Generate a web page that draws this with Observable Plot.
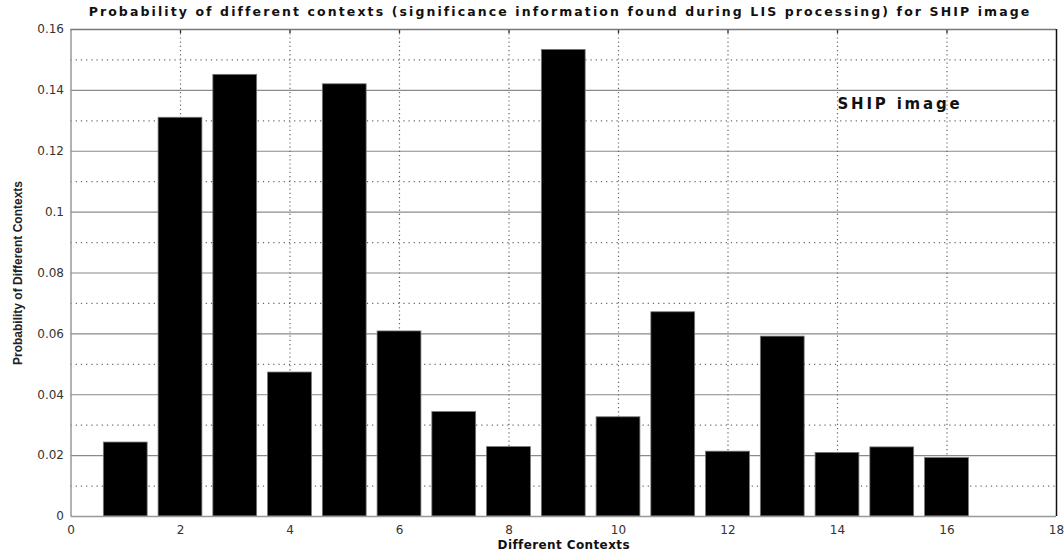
<!DOCTYPE html>
<html>
<head>
<meta charset="utf-8">
<script src="https://cdn.jsdelivr.net/npm/d3@7"></script>
<script src="https://cdn.jsdelivr.net/npm/@observablehq/plot@0.6"></script>
<style>
  html, body { margin: 0; padding: 0; background: #fff; }
  #wrap { width: 1064px; height: 552px; position: relative; font-family: "DejaVu Sans", sans-serif; }
  #title { height: 22px; line-height: 24px; font-size: 12.5px; font-weight: bold; letter-spacing: 2.1px;
           text-align: center; padding-left: 56px; box-sizing: border-box; width: 1064px; color: #111; white-space: nowrap; }
  svg { display: block; }
</style>
</head>
<body>
<div id="wrap">
  <div id="title">Probability of different contexts (significance information found during LIS processing) for SHIP image</div>
  <div id="chart"></div>
</div>
<script>
const contexts = [1, 2, 3, 4, 5, 6, 7, 8, 9, 10, 11, 12, 13, 14, 15, 16];
const probabilities = [0.0243, 0.131, 0.1451, 0.0473, 0.142, 0.0608, 0.0343, 0.0228, 0.1533, 0.0326, 0.0671, 0.0213, 0.0591, 0.0209, 0.0227, 0.0192];
const xTicks = [0, 2, 4, 6, 8, 10, 12, 14, 16, 18];
const yTicks = [0, 0.02, 0.04, 0.06, 0.08, 0.1, 0.12, 0.14, 0.16];
const yMinor = [0.01, 0.03, 0.05, 0.07, 0.09, 0.11, 0.13, 0.15];
const xGrid = [2, 4, 6, 8, 10, 12, 14, 16];
const yGrid = [0.02, 0.04, 0.06, 0.08, 0.1, 0.12, 0.14];
const annotation = [{x: 14.0, y: 0.1355, text: "SHIP image"}];
const xLabel = "Different Contexts";
const yLabel = "Probability of Different Contexts";

const bars = contexts.map((c, i) => ({c, p: probabilities[i]}));
const fmt = d => d === 0 ? "0" : String(+d.toFixed(2));

const chart = Plot.plot({
  width: 1064,
  height: 530,
  marginLeft: 70.5,
  marginRight: 8,
  marginTop: 7,
  marginBottom: 36,
  style: {fontFamily: "'DejaVu Sans', sans-serif", background: "#fff", color: "#222"},
  x: {type: "linear", domain: [0, 18]},
  y: {type: "linear", domain: [0, 0.16]},
  marks: [
    Plot.ruleY(yGrid, {stroke: "#8a8a8a", strokeWidth: 1.2}),
    Plot.ruleY(yMinor, {stroke: "#666", strokeWidth: 1.2, strokeDasharray: "1.2,4"}),
    Plot.ruleX(xGrid, {stroke: "#666", strokeWidth: 1.2, strokeDasharray: "1.2,3"}),
    Plot.ruleX(xGrid, {y1: 0.16, y2: 0.1587, stroke: "#222", strokeWidth: 1.3}),
    Plot.rectY(bars, {x1: d => d.c - 0.4, x2: d => d.c + 0.4, y: "p", fill: "#000", stroke: "#777", strokeWidth: 0.8}),
    Plot.ruleX([0], {stroke: "#999", strokeWidth: 1.5}),
    Plot.ruleY([0], {stroke: "#999", strokeWidth: 1.5}),
    Plot.ruleY([0.16], {stroke: "#777", strokeWidth: 1.3}),
    Plot.ruleX([18], {stroke: "#111", strokeWidth: 1.5}),
    Plot.axisX(xTicks, {tickSize: 0, tickPadding: 9, fontSize: 12, label: null, tickFormat: fmt, fill: "#333"}),
    Plot.axisY(yTicks, {tickSize: 0, tickPadding: 7, fontSize: 12, label: null, tickFormat: fmt, fill: "#333"}),
    Plot.text(annotation, {x: "x", y: "y", text: "text", textAnchor: "start", fontSize: 15, fontWeight: "bold", fill: "#111"}),
    Plot.text([xLabel], {frameAnchor: "bottom", dy: 29, lineAnchor: "middle", fontSize: 12, fontWeight: "bold", fill: "#111"}),
    Plot.text([yLabel], {frameAnchor: "left", dx: -53, rotate: -90, textAnchor: "middle", lineAnchor: "middle", fontFamily: "'Liberation Sans', Arial, sans-serif", fontSize: 12, fontWeight: "bold", fill: "#222"})
  ]
});
document.getElementById("chart").appendChild(chart);
// letter spacing for annotation and x label
d3.select(chart).selectAll("text").filter(function() { return this.textContent === "SHIP image"; }).style("letter-spacing", "2.8px");
d3.select(chart).selectAll("text").filter(function() { return this.textContent === "Different Contexts"; }).style("letter-spacing", "0.4px");
</script>
</body>
</html>
